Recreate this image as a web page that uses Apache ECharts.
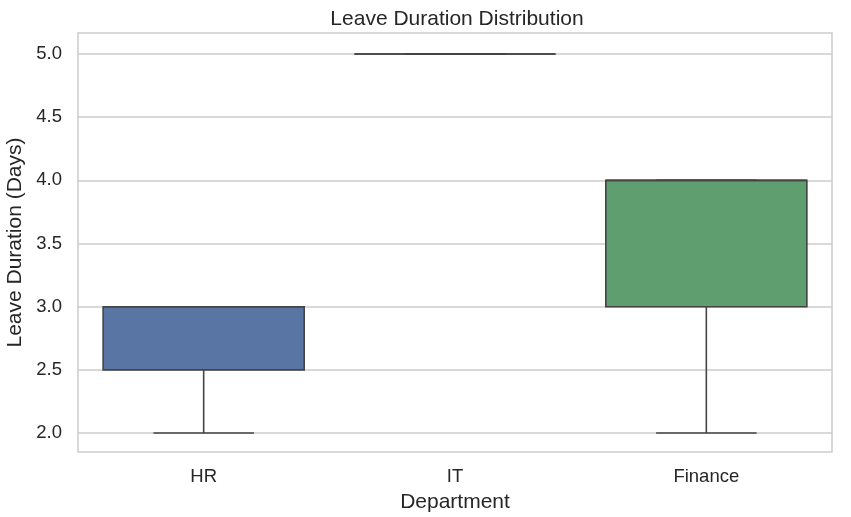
<!DOCTYPE html>
<html lang="en">

<head>
  <meta charset="UTF-8">
  <title>Leave Duration Distribution</title>
  <script src="https://cdn.jsdelivr.net/npm/echarts@6/dist/echarts.min.js"></script>
</head>

<body style="margin:0">
  <div id="main" style="width: 851px;height:517px;"></div>
  <script>
    // box statistics per department
    const departments = ['HR', 'IT', 'Finance'];
    const lows = [2.0, 5.0, 2.0];
    const q1s = [2.5, 5.0, 3.0];
    const medians = [3.0, 5.0, 4.0];
    const q3s = [3.0, 5.0, 4.0];
    const highs = [3.0, 5.0, 4.0];
    const yTicks = [2.0, 2.5, 3.0, 3.5, 4.0, 4.5, 5.0];
    const boxColors = ['#5875a4', '#5875a4', '#5f9e6e'];

    const edge = '#444444';
    const font = 'Liberation Sans, Arial, sans-serif';

    var myChart = echarts.init(document.getElementById('main'));

    const option = {
      title: {
        text: 'Leave Duration Distribution',
        left: 452, top: 4, textAlign: 'center',
        textStyle: { fontFamily: font, fontSize: 21, fontWeight: 'normal', color: '#262626' }
      },
      grid: {
        left: 78, right: 19, top: 33, bottom: 65, outerBoundsMode: 'none',
        show: true, borderColor: '#cccccc', borderWidth: 1.5
      },
      xAxis: {
        type: 'category',
        data: departments,
        name: 'Department',
        nameLocation: 'middle',
        nameGap: 40,
        nameTextStyle: { fontFamily: font, fontSize: 21, color: '#262626' },
        axisLine: { show: false },
        axisTick: { show: false },
        axisLabel: { fontFamily: font, fontSize: 18.5, color: '#262626', margin: 15 },
        splitLine: { show: false }
      },
      yAxis: {
        type: 'value',
        min: 1.85, max: 5.166,
        name: 'Leave Duration (Days)',
        nameLocation: 'middle',
        nameGap: 49,
        nameTextStyle: { fontFamily: font, fontSize: 21, color: '#262626' },
        axisLine: { show: false },
        axisTick: { show: false, customValues: yTicks },
        axisLabel: {
          customValues: yTicks, fontFamily: font, fontSize: 18.5, color: '#262626', margin: 16,
          formatter: v => v.toFixed(1)
        },
        splitLine: { show: true, lineStyle: { color: '#cccccc', width: 1.5 } }
      },
      series: [{
        type: 'custom',
        data: departments.map((d, i) => [i, lows[i], q1s[i], medians[i], q3s[i], highs[i]]),
        renderItem: function (params, api) {
          const i = api.value(0);
          const band = api.size([1, 0])[0];
          const half = band * 0.8 / 2;
          const cap = half / 2;
          const lo = api.coord([i, api.value(1)]);
          const b1 = api.coord([i, api.value(2)]);
          const md = api.coord([i, api.value(3)]);
          const b3 = api.coord([i, api.value(4)]);
          const hi = api.coord([i, api.value(5)]);
          const x = lo[0];
          const ls = { stroke: edge, lineWidth: 1.6 };
          return {
            type: 'group',
            children: [
              { type: 'line', shape: { x1: x, y1: lo[1], x2: x, y2: b1[1] }, style: ls },
              { type: 'line', shape: { x1: x, y1: b3[1], x2: x, y2: hi[1] }, style: ls },
              { type: 'line', shape: { x1: x - cap, y1: lo[1], x2: x + cap, y2: lo[1] }, style: ls },
              { type: 'line', shape: { x1: x - cap, y1: hi[1], x2: x + cap, y2: hi[1] }, style: ls },
              {
                type: 'rect',
                shape: { x: x - half, y: b3[1], width: half * 2, height: b1[1] - b3[1] },
                style: { fill: boxColors[i], stroke: edge, lineWidth: 1.6 }
              },
              { type: 'line', shape: { x1: x - half, y1: md[1], x2: x + half, y2: md[1] }, style: ls }
            ]
          };
        }
      }]
    };

    myChart.setOption(option);
  </script>
</body>

</html>
